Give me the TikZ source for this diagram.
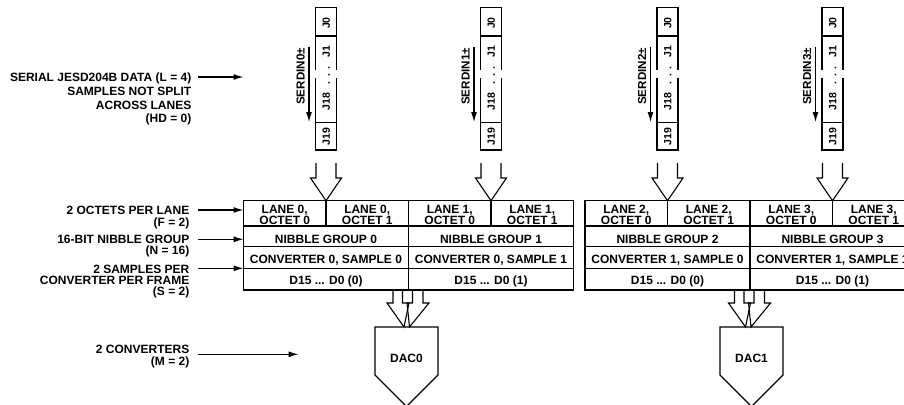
\documentclass[tikz,border=0pt]{standalone}
\usepackage{fontspec}
\setmainfont{Liberation Sans}
\usetikzlibrary{arrows.meta}
\begin{document}
\begin{tikzpicture}[x=1pt,y=-1pt,
  ln/.style={line width=1.1pt},
  tb/.style={draw, line width=1.2pt, inner sep=0pt, minimum width=#1},
  lbl/.style={font=\fontsize{12}{#1}\selectfont\bfseries, inner sep=0pt, align=right, anchor=north east},
  ctx/.style={font=\fontsize{12}{10.9}\selectfont\bfseries, inner sep=0pt, align=center},
  jlab/.style={font=\fontsize{10.5}{11}\selectfont\bfseries, inner sep=0pt, rotate=90, text height=7.5pt, text depth=0pt},
  ser/.style={font=\fontsize{11.6}{12}\selectfont\bfseries, inner sep=0pt, rotate=90, text height=8.3pt, text depth=0pt},
  arr/.style={line width=1.1pt, -{Latex[length=10pt,width=6pt]}},
  wide/.style={line width=1.1pt, line join=miter}
]
\useasboundingbox (0,0) rectangle (904,404);
\clip (0,0) rectangle (904,404);

% ---------- left labels ----------
\node[lbl=13.87] (t1) at (191.5,72.4) {SERIAL JESD204B DATA (L = 4)\\SAMPLES NOT SPLIT\\ACROSS LANES\\(HD = 0)};
\node[lbl=12] (t2) at (189.5,206.4) {2 OCTETS PER LANE\\(F = 2)};
\node[lbl=11.4] (t3) at (189.5,235) {16-BIT NIBBLE GROUP\\(N = 16)};
\node[lbl=11.3] (t4) at (189.5,264.7) {2 SAMPLES PER\\CONVERTER PER FRAME\\(S = 2)};
\node[lbl=12.4] (t5) at (189.5,345) {2 CONVERTERS\\(M = 2)};

\coordinate (a1s) at (198,77);    \coordinate (a1e) at (243.5,77);
\coordinate (a2s) at (198,210);   \coordinate (a2e) at (243.5,210);
\coordinate (a3s) at (198,239.3); \coordinate (a3e) at (243.5,239.3);
\coordinate (a4s) at (198,268.3); \coordinate (a4e) at (243.5,268.3);
\coordinate (a5s) at (198,354.3); \coordinate (a5e) at (298.5,354.3);
\draw[arr] (a1s) -- (a1e);
\draw[arr] (a2s) -- (a2e);
\draw[arr] (a3s) -- (a3e);
\draw[arr] (a4s) -- (a4e);
\draw[arr] (a5s) -- (a5e);

% ---------- serial lane columns ----------
\foreach \c/\i in {326/0, 491/1, 667.5/2, 832.5/3}{
  \draw[ln] (\c-10.5,70) -- (\c-10.5,7.3) -- (\c+10.5,7.3) -- (\c+10.5,70);
  \draw[ln] (\c-10.5,78) -- (\c-10.5,150) -- (\c+10.5,150) -- (\c+10.5,78);
  \draw[ln] (\c-10.5,36) -- (\c+10.5,36);
  \draw[ln] (\c-10.5,122.7) -- (\c+10.5,122.7);
  \node[jlab] (jz\i) at (\c,23) {J0};
  \node[jlab] (jo\i) at (\c,51.7) {J1};
  \node[jlab] (jd\i) at (\c,75.5) {.\hspace{4.6pt}.\hspace{4.6pt}.};
  \node[jlab] (je\i) at (\c,101.7) {J18};
  \node[jlab] (jn\i) at (\c,136.3) {J19};
  \node[ser] (sd\i) at (\c-25.5,76.5) {SERDIN\i±};
  \coordinate (ss\i) at (\c-17,47);
  \coordinate (se\i) at (\c-17,122);
  \draw[arr] (ss\i) -- (se\i);
  \draw[wide] (\c-10,163) -- (\c-10,178) -- (\c-15.5,178) -- (\c,200.7) -- (\c+15.5,178) -- (\c+10,178) -- (\c+10,163);
}

% ---------- table 1 ----------
\node[tb=82.5, minimum height=25.3] (c00) at (284.75,213.35) {};
\node[tb=82.5, minimum height=25.3] (c01) at (367.25,213.35) {};
\node[tb=82.5, minimum height=25.3] (c10) at (449.75,213.35) {};
\node[tb=82.5, minimum height=25.3] (c11) at (532.25,213.35) {};
\node[tb=165, minimum height=20.7] (n0) at (326,236.35) {};
\node[tb=165, minimum height=20.7] (n1) at (491,236.35) {};
\node[tb=165, minimum height=21.6] (v00) at (326,257.5) {};
\node[tb=165, minimum height=21.6] (v01) at (491,257.5) {};
\node[tb=165, minimum height=21.7] (d00) at (326,279.15) {};
\node[tb=165, minimum height=21.7] (d01) at (491,279.15) {};

\node[ctx, anchor=north] (x00) at (284.75,204.9) {LANE 0,\\OCTET 0};
\node[ctx, anchor=north] (x01) at (367.25,204.9) {LANE 0,\\OCTET 1};
\node[ctx, anchor=north] (x10) at (449.75,204.9) {LANE 1,\\OCTET 0};
\node[ctx, anchor=north] (x11) at (532.25,204.9) {LANE 1,\\OCTET 1};
\node[ctx, anchor=base] (xn0) at (326,243.5) {NIBBLE GROUP 0};
\node[ctx, anchor=base] (xn1) at (491,243.5) {NIBBLE GROUP 1};
\node[ctx, anchor=base] (xv00) at (326,263.5) {CONVERTER 0, SAMPLE 0};
\node[ctx, anchor=base] (xv01) at (491,263.5) {CONVERTER 0, SAMPLE 1};
\node[ctx, anchor=base] (xd00) at (326,284.6) {D15 ... D0 (0)};
\node[ctx, anchor=base] (xd01) at (491,284.6) {D15 ... D0 (1)};

% ---------- table 2 ----------
\node[tb=82.5, minimum height=25.3] (c20) at (626.25,213.35) {};
\node[tb=82.5, minimum height=25.3] (c21) at (708.75,213.35) {};
\node[tb=82.5, minimum height=25.3] (c30) at (791.25,213.35) {};
\node[tb=82.5, minimum height=25.3] (c31) at (873.75,213.35) {};
\node[tb=165, minimum height=20.7] (n2) at (667.5,236.35) {};
\node[tb=165, minimum height=20.7] (n3) at (832.5,236.35) {};
\node[tb=165, minimum height=21.6] (v10) at (667.5,257.5) {};
\node[tb=165, minimum height=21.6] (v11) at (832.5,257.5) {};
\node[tb=165, minimum height=21.7] (d10) at (667.5,279.15) {};
\node[tb=165, minimum height=21.7] (d11) at (832.5,279.15) {};

\node[ctx, anchor=north] (x20) at (626.25,204.9) {LANE 2,\\OCTET 0};
\node[ctx, anchor=north] (x21) at (708.75,204.9) {LANE 2,\\OCTET 1};
\node[ctx, anchor=north] (x30) at (791.25,204.9) {LANE 3,\\OCTET 0};
\node[ctx, anchor=north] (x31) at (873.75,204.9) {LANE 3,\\OCTET 1};
\node[ctx, anchor=base] (xn2) at (667.5,243.5) {NIBBLE GROUP 2};
\node[ctx, anchor=base] (xn3) at (832.5,243.5) {NIBBLE GROUP 3};
\node[ctx, anchor=base] (xv10) at (667.5,263.5) {CONVERTER 1, SAMPLE 0};
\node[ctx, anchor=base] (xv11) at (832.5,263.5) {CONVERTER 1, SAMPLE 1};
\node[ctx, anchor=base] (xd10) at (667.5,284.6) {D15 ... D0 (0)};
\node[ctx, anchor=base] (xd11) at (832.5,284.6) {D15 ... D0 (1)};

% ---------- bottom wide arrows and DACs ----------
\foreach \d/\c/\i in {408.5/406.5/0, 750/751.5/1}{
  \draw[wide] (\d-15.5,290) -- (\d-15.5,303) -- (\d-21.5,303) -- (\d-4.5,327) -- (\d+0.5,303) -- (\d-6,303) -- (\d-6,290);
  \draw[wide] (\d+4,290) -- (\d+4,303) -- (\d-1.5,303) -- (\d+1,327) -- (\d+20.5,303) -- (\d+14.5,303) -- (\d+14.5,290);
  \draw[wide] (\c-31.5,327) -- (\c+31.5,327) -- (\c+31.5,375) -- (\c,406.5) -- (\c-31.5,375) -- cycle;
  \node[ctx, anchor=base] (dac\i) at (\c,362.3) {DAC\i};
}
\end{tikzpicture}
\end{document}
